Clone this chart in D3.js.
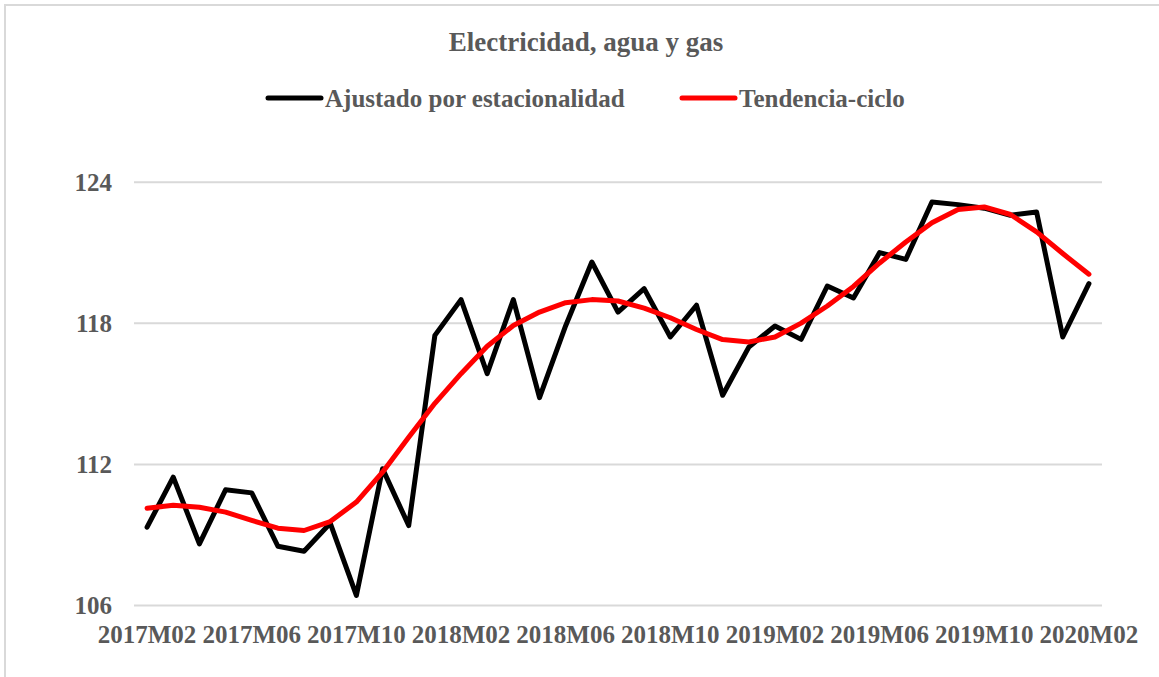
<!DOCTYPE html>
<html>
<head>
<meta charset="utf-8">
<script src="https://cdn.jsdelivr.net/npm/d3@7"></script>
<style>
  body { margin: 0; background: #fff; }
  text { font-family: "Liberation Serif", "DejaVu Serif", serif; font-weight: bold; fill: #595959; }
</style>
</head>
<body>
<div id="chart"></div>
<script>
var months = ["2017M02","2017M03","2017M04","2017M05","2017M06","2017M07","2017M08","2017M09","2017M10","2017M11","2017M12",
  "2018M01","2018M02","2018M03","2018M04","2018M05","2018M06","2018M07","2018M08","2018M09","2018M10","2018M11","2018M12",
  "2019M01","2019M02","2019M03","2019M04","2019M05","2019M06","2019M07","2019M08","2019M09","2019M10","2019M11","2019M12",
  "2020M01","2020M02"];
var ajustado = [109.33, 111.46, 108.62, 110.92, 110.79, 108.52, 108.31, 109.5, 106.43, 111.82, 109.4,
  117.49, 119.01, 115.86, 119.01, 114.84, 117.9, 120.61, 118.48, 119.48, 117.42, 118.77, 114.94,
  116.99, 117.89, 117.32, 119.59, 119.08, 121.01, 120.72, 123.16, 123.05, 122.9, 122.6, 122.74,
  117.42, 119.69];
var tendencia = [110.14, 110.26, 110.18, 109.97, 109.62, 109.29, 109.19, 109.57, 110.40, 111.67, 113.16,
  114.6, 115.86, 117.03, 117.91, 118.48, 118.88, 119.01, 118.95, 118.65, 118.24, 117.74, 117.31,
  117.21, 117.42, 118.01, 118.74, 119.57, 120.57, 121.46, 122.28, 122.84, 122.95, 122.63, 121.89,
  120.97, 120.09];
var yTicks = [106, 112, 118, 124];
var xTicks = ["2017M02","2017M06","2017M10","2018M02","2018M06","2018M10","2019M02","2019M06","2019M10","2020M02"];
var seriesNames = ["Ajustado por estacionalidad", "Tendencia-ciclo"];
var seriesColors = ["#000000", "#ff0000"];

var W = 1159, H = 677;
var FONT = 25;
var svg = d3.select('#chart').append('svg').attr('width', W).attr('height', H);

// outer frame (only top and left visible)
svg.append('path').attr('d', 'M5,' + H + ' V5 H' + W).attr('fill', 'none').attr('stroke', '#d9d9d9').attr('stroke-width', 2);

var x = d3.scalePoint().domain(months).range([134, 1102]).padding(0.5);
var y = d3.scaleLinear().domain([106, 124]).range([605.5, 182.3]);

// grid
svg.append('g').selectAll('line').data(yTicks).enter().append('line')
  .attr('x1', 134).attr('x2', 1102)
  .attr('y1', function(d){ return y(d); }).attr('y2', function(d){ return y(d); })
  .attr('stroke', '#d9d9d9').attr('stroke-width', 2);

// y labels
svg.append('g').selectAll('text').data(yTicks).enter().append('text')
  .attr('x', 112).attr('y', function(d){ return y(d); }).attr('dy', '0.33em')
  .attr('text-anchor', 'end').style('font-size', FONT + 'px')
  .text(function(d){ return d; });

// x labels
svg.append('g').selectAll('text').data(xTicks).enter().append('text')
  .attr('x', function(d){ return x(d); }).attr('y', 643)
  .attr('text-anchor', 'middle').style('font-size', FONT + 'px')
  .text(function(d){ return d; });

// lines
var line = d3.line().x(function(d, i){ return x(months[i]); }).y(function(d){ return y(d); });
[ajustado, tendencia].forEach(function(s, k){
  svg.append('path').datum(s).attr('d', line)
    .attr('fill', 'none').attr('stroke', seriesColors[k]).attr('stroke-width', 5)
    .attr('stroke-linejoin', 'round').attr('stroke-linecap', 'round');
});

// title
svg.append('text').attr('x', 586).attr('y', 51).attr('text-anchor', 'middle')
  .style('font-size', '27px').text('Electricidad, agua y gas');

// legend
var legX = [268, 682];
seriesNames.forEach(function(n, k){
  svg.append('line').attr('x1', legX[k]).attr('x2', legX[k] + 53).attr('y1', 98).attr('y2', 98)
    .attr('stroke', seriesColors[k]).attr('stroke-width', 5).attr('stroke-linecap', 'round');
  svg.append('text').attr('x', legX[k] + 57).attr('y', 106.5).style('font-size', FONT + 'px').text(n);
});
</script>
</body>
</html>
